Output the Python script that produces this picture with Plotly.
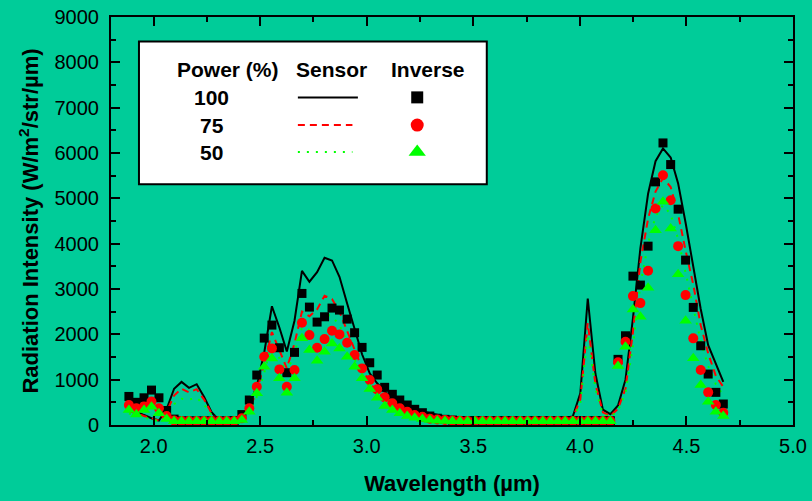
import plotly.graph_objects as go

# Wavelength grid (µm)
wavelength = [
    1.884, 1.919, 1.955, 1.990, 2.025, 2.061, 2.096, 2.131, 2.166, 2.202,
    2.237, 2.272, 2.308, 2.343, 2.378, 2.414, 2.449, 2.484, 2.519, 2.555,
    2.590, 2.625, 2.661, 2.696, 2.731, 2.767, 2.802, 2.837, 2.872, 2.908,
    2.943, 2.978, 3.014, 3.049, 3.084, 3.120, 3.155, 3.190, 3.225, 3.261,
    3.296, 3.331, 3.367, 3.402, 3.437, 3.473, 3.508, 3.543, 3.578, 3.614,
    3.649, 3.684, 3.720, 3.755, 3.790, 3.826, 3.861, 3.896, 3.931, 3.967,
    4.002, 4.037, 4.073, 4.108, 4.143, 4.179, 4.214, 4.249, 4.284, 4.320,
    4.355, 4.390, 4.426, 4.461, 4.496, 4.532, 4.567, 4.602, 4.638, 4.673,
]

# Sensor-measured radiation intensity (W/m^2/str/µm)
sensor_100 = [
    350, 300, 220, 150, 100, 350, 800, 950, 820, 900,
    620, 280, 100, 80, 75, 130, 450, 850, 1600, 2620,
    2150, 1620, 2300, 3400, 3160, 3370, 3690, 3630, 3270, 2680,
    2100, 1560, 1140, 920, 740, 600, 520, 430, 350, 300,
    260, 220, 190, 160, 140, 120, 105, 95, 90, 85,
    85, 90, 95, 100, 110, 120, 130, 140, 160, 190,
    700, 2790, 1130, 340, 240, 430, 1000, 2350, 3900, 5100,
    5820, 6100, 5900, 5330, 4460, 3520, 2560, 1760, 1330, 950,
]
sensor_75 = [
    300, 260, 200, 140, 95, 290, 650, 800, 720, 790,
    560, 260, 90, 70, 65, 110, 350, 740, 1350, 2050,
    1650, 1250, 1800, 2500, 2400, 2550, 2850, 2780, 2500, 2080,
    1650, 1250, 930, 740, 600, 490, 410, 340, 280, 240,
    200, 170, 150, 130, 115, 100, 90, 85, 80, 75,
    75, 80, 85, 90, 95, 100, 110, 120, 135, 160,
    560, 2250, 900, 280, 200, 360, 800, 2050, 3600, 4550,
    5150, 5450, 5250, 4650, 3850, 3100, 2200, 1580, 1080, 840,
]
sensor_50 = [
    250, 220, 170, 120, 80, 230, 460, 580, 560, 600,
    450, 220, 70, 60, 55, 90, 280, 620, 1150, 1800,
    1480, 1150, 1600, 2150, 2100, 2250, 2450, 2400, 2200, 1850,
    1450, 1100, 820, 640, 520, 420, 350, 290, 240, 200,
    170, 140, 120, 110, 95, 85, 75, 70, 65, 65,
    65, 70, 75, 80, 85, 90, 95, 105, 115, 140,
    480, 2000, 800, 240, 170, 320, 700, 1750, 3100, 4000,
    4600, 4850, 4650, 4100, 3350, 2600, 1850, 1300, 900, 650,
]

# Inverse-method estimates (W/m^2/str/µm)
inverse_100 = [
    630, 500, 600, 770, 600, 320, 130, 90, 90, 90,
    90, 90, 90, 90, 100, 230, 551, 1102, 1917, 2204,
    1704, 1153, 1602, 2902, 2601, 2270, 2387, 2579, 2535, 2336,
    2035, 1712, 1373, 1102, 831, 677, 551, 441, 346, 271,
    198, 150, 125, 110, 100, 95, 95, 95, 95, 95,
    95, 95, 95, 95, 95, 95, 95, 95, 95, 95,
    95, 95, 95, 95, 95, 1448, 1968, 3284, 3086, 3945,
    5363, 6222, 5745, 4761, 3637, 2594, 1748, 1124, 720, 463,
]
inverse_75 = [
    440, 370, 410, 520, 370, 200, 100, 90, 90, 90,
    90, 90, 90, 90, 90, 150, 367, 844, 1506, 1690,
    1227, 844, 1212, 2255, 1983, 1705, 1895, 2079, 1999, 1814,
    1543, 1249, 992, 786, 610, 478, 367, 294, 220, 180,
    140, 120, 110, 100, 95, 90, 90, 90, 90, 90,
    90, 90, 90, 90, 90, 90, 90, 90, 90, 90,
    90, 90, 90, 90, 90, 1382, 1836, 2843, 2689, 3401,
    4776, 5510, 4959, 3945, 2865, 1911, 1212, 720, 441, 271,
]
inverse_50 = [
    330, 230, 330, 400, 260, 130, 80, 80, 80, 80,
    80, 80, 80, 80, 80, 110, 294, 698, 1285, 1469,
    1029, 712, 1029, 1911, 1653, 1418, 1616, 1800, 1690, 1506,
    1285, 1029, 793, 602, 419, 331, 257, 200, 160, 130,
    110, 95, 90, 85, 85, 80, 80, 80, 80, 80,
    80, 80, 80, 80, 80, 80, 80, 80, 80, 80,
    80, 80, 80, 80, 80, 1300, 1726, 2550, 2387, 3026,
    4298, 4922, 4335, 3328, 2299, 1470, 882, 514, 294, 198,
]

power_levels = ["100", "75", "50"]
column_headers = ["Power (%)", "Sensor", "Inverse"]

BG = "#00CC99"
FONT = "Arial, 'Liberation Sans', sans-serif"

line_styles = [
    dict(color="black", width=2, dash="solid"),
    dict(color="#FF0000", width=2, dash="7px,5px"),
    dict(color="#00FF00", width=2, dash="2px,7px"),
]
marker_styles = [
    dict(symbol="square", color="black", size=9),
    dict(symbol="circle", color="#FF0000", size=10),
    dict(symbol="triangle-up", color="#00FF00", size=11),
]

fig = go.Figure()

sensors = [sensor_100, sensor_75, sensor_50]
inverses = [inverse_100, inverse_75, inverse_50]

for series, style in zip(sensors, line_styles):
    fig.add_trace(go.Scatter(x=wavelength, y=series, mode="lines",
                             line=style, showlegend=False, hoverinfo="skip"))
for series, style in zip(inverses, marker_styles):
    fig.add_trace(go.Scatter(x=wavelength, y=series, mode="markers",
                             marker=dict(symbol=style["symbol"], color=style["color"],
                                         size=style["size"], line=dict(width=0)),
                             showlegend=False, hoverinfo="skip"))

# Key table in the upper-left corner (paper coordinates of the plot area)
box = dict(x0=0.041, x1=0.551, y0=0.590, y1=0.940)
header_y = 0.872
col_x = [0.1716, 0.324, 0.465]
row_y = [0.803, 0.735, 0.669]
label_x = 0.148
sample_x = [(0.274, 0.362), (0.274, 0.354), (0.274, 0.354)]
key_marker_x = 0.449
key_marker_sizes = [12, 13, 15]

fig.add_shape(type="rect", xref="paper", yref="paper", layer="below",
              x0=box["x0"], x1=box["x1"], y0=box["y0"], y1=box["y1"],
              fillcolor="white", line=dict(color="black", width=2))

for text, x in zip(column_headers, col_x):
    fig.add_annotation(x=x, y=header_y, xref="paper", yref="paper", text=f"<b>{text}</b>",
                       xanchor="center", yanchor="middle", showarrow=False,
                       font=dict(family=FONT, size=21, color="black"))

for label, y, style, (sx0, sx1), mstyle, msize in zip(power_levels, row_y, line_styles,
                                                      sample_x, marker_styles, key_marker_sizes):
    fig.add_annotation(x=label_x, y=y, xref="paper", yref="paper", text=f"<b>{label}</b>",
                       xanchor="center", yanchor="middle", showarrow=False,
                       font=dict(family=FONT, size=21, color="black"))
    fig.add_shape(type="line", xref="paper", yref="paper", layer="above",
                  x0=sx0, x1=sx1, y0=y, y1=y, line=style)
    fig.add_trace(go.Scatter(x=[key_marker_x], y=[y], xaxis="x2", yaxis="y2", mode="markers",
                             marker=dict(symbol=mstyle["symbol"], color=mstyle["color"],
                                         size=msize, line=dict(width=0)),
                             showlegend=False, hoverinfo="skip"))

axis_common = dict(
    automargin=False,
    showgrid=False, zeroline=False,
    showline=True, linecolor="black", linewidth=2, mirror="allticks",
    ticks="inside", ticklen=9, tickwidth=2, tickcolor="black",
    tickfont=dict(family=FONT, size=20, color="black"),
)

fig.update_layout(
    width=812, height=501,
    margin=dict(l=111, r=19, t=17, b=76),
    paper_bgcolor=BG, plot_bgcolor=BG,
    showlegend=False,
    xaxis=dict(
        range=[1.8, 5.0], dtick=0.5, tick0=0, tickformat=".1f",
        minor=dict(dtick=0.25, ticks="inside", ticklen=5, tickwidth=2, tickcolor="black"),
        ticklabelstandoff=2,
        title=dict(text="Wavelength (µm)", standoff=20,
                   font=dict(family=FONT, size=22, color="black", weight="bold")),
        **axis_common,
    ),
    yaxis=dict(
        range=[0, 9000], dtick=1000, tick0=0,
        minor=dict(dtick=500, ticks="inside", ticklen=5, tickwidth=2, tickcolor="black"),
        ticklabelstandoff=6,
        title=dict(text="Radiation Intensity (W/m<sup>2</sup>/str/µm)", standoff=10,
                   font=dict(family=FONT, size=22, color="black", weight="bold")),
        **axis_common,
    ),
    xaxis2=dict(range=[0, 1], overlaying="x", anchor="y2", visible=False, automargin=False),
    yaxis2=dict(range=[0, 1], overlaying="y", anchor="x2", visible=False, automargin=False),
)

fig.write_html("out.html")
